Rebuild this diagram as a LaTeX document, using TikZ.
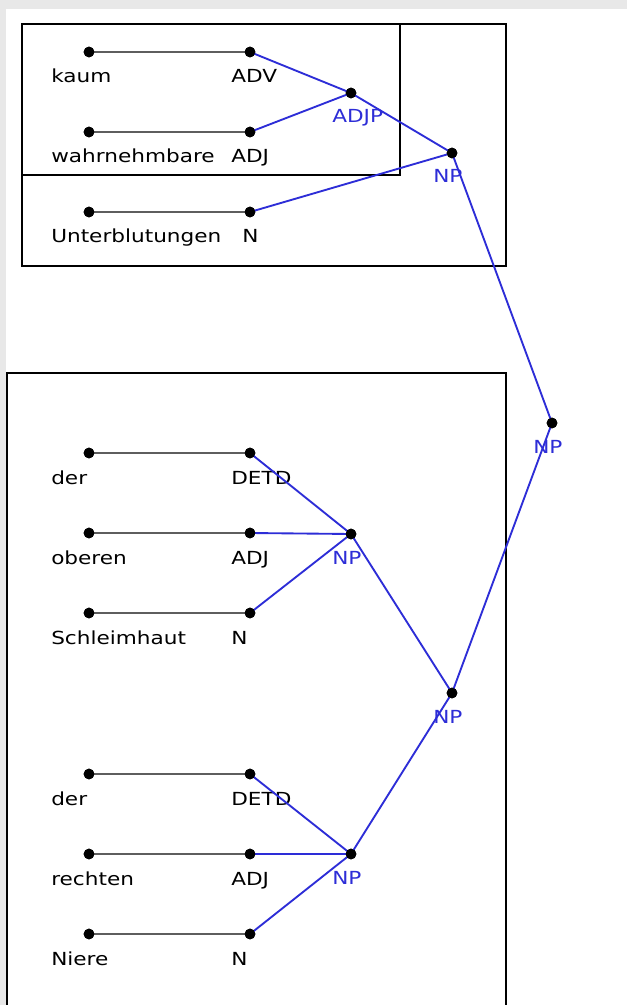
\documentclass[tikz,border=0pt]{standalone}
\usepackage{fontspec}
\setmainfont{DejaVu Sans}
\definecolor{bgray}{HTML}{E8E8E8}
\definecolor{lgray}{HTML}{5E5E5E}
\definecolor{tblue}{RGB}{45,45,215}
\newcommand\sx[1]{\scalebox{1.2}[1]{#1}}
\begin{document}
\begin{tikzpicture}[x=0.75pt,y=-0.75pt,
  dot/.style={circle,fill=black,draw=none,inner sep=0pt,minimum size=8pt},
  lbl/.style={inner sep=0pt,anchor=base west,font=\fontsize{13.5}{16}\selectfont},
  plbl/.style={lbl,text=tblue},
  leaf/.style={draw=lgray,line width=2.2pt},
  edge/.style={draw=tblue,line width=1.4pt},
  frame/.style={draw=black,line width=1.6pt}]
\useasboundingbox (0,0) rectangle (627,1005);
\fill[bgray] (0,0) rectangle (627,1005);
\fill[white] (6,9) rectangle (627,1005);
% boxes
\draw[frame] (22,24) rectangle (400,175);
\draw[frame] (22,24) rectangle (506,266);
\draw[frame] (7,1006) -- (7,373) -- (506,373) -- (506,1006);
% dots
\node[dot] (w1) at (89,52) {};
\node[dot] (t1) at (250,52) {};
\node[dot] (w2) at (89,132) {};
\node[dot] (t2) at (250,132) {};
\node[dot] (w3) at (89,212) {};
\node[dot] (t3) at (250,212) {};
\node[dot] (w4) at (89,453) {};
\node[dot] (t4) at (250,453) {};
\node[dot] (w5) at (89,533) {};
\node[dot] (t5) at (250,533) {};
\node[dot] (w6) at (89,613) {};
\node[dot] (t6) at (250,613) {};
\node[dot] (w7) at (89,774) {};
\node[dot] (t7) at (250,774) {};
\node[dot] (w8) at (89,854) {};
\node[dot] (t8) at (250,854) {};
\node[dot] (w9) at (89,934) {};
\node[dot] (t9) at (250,934) {};
\node[dot] (adjp) at (351,93) {};
\node[dot] (np1) at (452,153) {};
\node[dot] (np2) at (552,423) {};
\node[dot] (np3) at (351,534) {};
\node[dot] (np4) at (452,693) {};
\node[dot] (np5) at (351,854) {};
% labels
\node[lbl] (lw1) at (51,83) {\sx{kaum}};
\node[lbl] (lt1) at (231,83) {\sx{ADV}};
\node[lbl] (lw2) at (51,163) {\sx{wahrnehmbare}};
\node[lbl] (lt2) at (231,163) {\sx{ADJ}};
\node[lbl] (lw3) at (51,243) {\sx{Unterblutungen}};
\node[lbl] (lt3) at (242,243) {\sx{N}};
\node[lbl] (lw4) at (51,484) {\sx{der}};
\node[lbl] (lt4) at (231,484) {\sx{DETD}};
\node[lbl] (lw5) at (51,564) {\sx{oberen}};
\node[lbl] (lt5) at (231,564) {\sx{ADJ}};
\node[lbl] (lw6) at (51,644) {\sx{Schleimhaut}};
\node[lbl] (lt6) at (231,644) {\sx{N}};
\node[lbl] (lw7) at (51,805) {\sx{der}};
\node[lbl] (lt7) at (231,805) {\sx{DETD}};
\node[lbl] (lw8) at (51,885) {\sx{rechten}};
\node[lbl] (lt8) at (231,885) {\sx{ADJ}};
\node[lbl] (lw9) at (51,965) {\sx{Niere}};
\node[lbl] (lt9) at (231,965) {\sx{N}};
\node[plbl] (ladjp) at (332,123) {\sx{ADJP}};
\node[plbl] (lnp1) at (433,183) {\sx{NP}};
\node[plbl] (lnp2) at (533,453) {\sx{NP}};
\node[plbl] (lnp3) at (332,564) {\sx{NP}};
\node[plbl] (lnp4) at (433,723) {\sx{NP}};
\node[plbl] (lnp5) at (332,884) {\sx{NP}};
% leaf lines
\foreach \i in {1,...,9} \draw[leaf] (w\i.center) -- (t\i.center);
% tree edges
\draw[edge] (t1.center) -- (adjp.center);
\draw[edge] (t2.center) -- (adjp.center);
\draw[edge] (adjp.center) -- (np1.center);
\draw[edge] (t3.center) -- (np1.center);
\draw[edge] (np1.center) -- (np2.center);
\draw[edge] (np4.center) -- (np2.center);
\draw[edge] (t4.center) -- (np3.center);
\draw[edge] (t5.center) -- (np3.center);
\draw[edge] (t6.center) -- (np3.center);
\draw[edge] (np3.center) -- (np4.center);
\draw[edge] (np5.center) -- (np4.center);
\draw[edge] (t7.center) -- (np5.center);
\draw[edge] (t8.center) -- (np5.center);
\draw[edge] (t9.center) -- (np5.center);
% dots on top
\foreach \n in {w1,t1,w2,t2,w3,t3,w4,t4,w5,t5,w6,t6,w7,t7,w8,t8,w9,t9,adjp,np1,np2,np3,np4,np5}
  \fill (\n.center) circle (4pt);
\end{tikzpicture}
\end{document}
